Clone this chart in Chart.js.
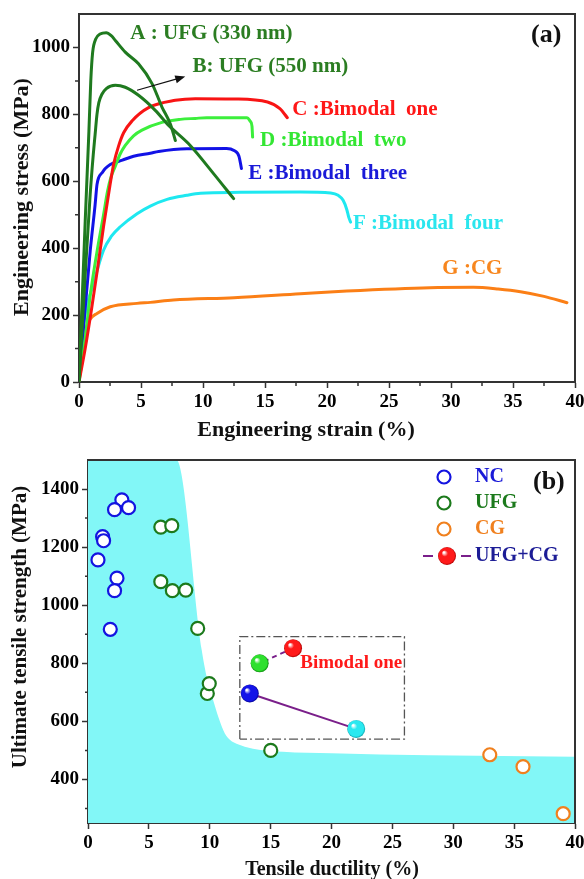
<!DOCTYPE html>
<html><head><meta charset="utf-8">
<script src="https://cdn.jsdelivr.net/npm/chart.js@4.4.1/dist/chart.umd.min.js"></script>
<style>
html,body{margin:0;padding:0;background:#fff;}
#wrap{position:relative;width:584px;height:879px;overflow:hidden;background:#fff;}
#ca{position:absolute;left:0;top:0;}
#cb{position:absolute;left:0;top:440px;}
</style></head><body>
<div id="wrap"><canvas id="ca" width="584" height="450"></canvas><canvas id="cb" width="584" height="439"></canvas></div>
<script>
// ===== Panel (a): engineering stress-strain curves =====
const strainA = [0,0.5,0.8,0.95,1.1,1.35,1.7,2.2,2.6,2.93,3.73,4.8,5.89,6.69,7.36,7.77];
const stressA = [0,480,750,900,985,1025,1040,1044,1035,1021,986,951,892,822,772,722];
const strainB = [0,0.5,0.9,1.15,1.3,1.45,1.6,1.85,2.2,2.93,3.73,4.8,6.15,7.23,8.84,10.85,12.47];
const stressB = [0,320,560,680,740,800,835,860,877,887,881,857,812,767,712,623,548];
const strainC = [0,0.5,1.0,1.5,2.0,2.52,2.8,3.19,3.6,4.27,5.61,7.77,9.38,12.5,15.2,16.2,16.8];
const stressC = [0,100,215,340,470,593,652,705,745,780,820,842,847,846,837,817,790];
const strainD = [0,0.5,0.91,1.5,1.98,2.3,2.6,2.93,3.3,3.73,4.4,5.08,6.69,8.17,9.38,10.3,13.55,13.8,13.95,14.0];
const stressD = [0,130,260,400,500,570,615,645,680,707,736,753,776,785,788,790,790,780,765,732];
const strainE = [0,0.37,0.91,1.3,1.45,1.6,1.85,2.12,2.52,3.5,4.4,5.75,6.42,8.7,11.9,12.5,12.9,13.1];
const stressE = [0,165,394,530,590,612,625,638,650,663,675,684,689,697,698,692,675,638];
const strainF = [0,0.37,1.18,1.98,2.6,3.33,4.68,5.75,7.1,8.7,9.8,13,17.85,20.3,20.9,21.3,21.6,21.75,21.9];
const stressF = [0,170,295,394,435,464,503,526,546,558,564,567,568,565,558,543,515,493,478];
const strainG = [0,0.25,0.51,0.9,1.45,2.52,4.68,5.75,7.6,12.5,17.85,21.6,28.3,31.8,33.8,35.6,37.5,39.35];
const stressG = [0,100,155,188,205,225,235,238,245,252,264,272,282,283,278,270,256,237];
const curveLabels = ['A : UFG (330 nm)','B: UFG (550 nm)','C :Bimodal  one','D :Bimodal  two','E :Bimodal  three','F :Bimodal  four','G :CG'];
const arrowStrain = [4.68, 8.57];
const arrowStress = [872, 913];

// ===== Panel (b): strength vs ductility =====
const ncDuctility = [2.78,2.18,3.33,1.20,1.28,0.82,2.38,2.18,1.83];
const ncStrength  = [1363,1329,1336,1236,1222,1156,1093,1050,917];
const ufgDuctility = [5.98,6.88,5.98,6.93,8.03,9.01,9.80,9.96,15.01];
const ufgStrength  = [1269,1274,1081,1050,1052,920,696,730,500];
const cgDuctility = [33.0,35.73,39.03];
const cgStrength  = [485,444,282];
const bimodalDuctility = [16.84,14.1,13.29,22.03];
const bimodalStrength  = [852,800,696,574];
const regionDuctility = [0,7.27,9.34,9.87,10.3,10.7,11.24,11.7,12.2,13.55,16,20,28,40];
const regionStrength  = [1500,1500,846,731,670,616,558,535,523,506,495,490,483,478];
const boxDuctility = [12.47, 25.99];
const boxStrength  = [539, 892];
const legendLabels = ['NC','UFG','CG','UFG+CG'];
const bimodalNote = 'Bimodal one';

// ===== styling =====
const FONT = "'Liberation Serif','Times New Roman',serif";
const pts = (xs, ys) => xs.map((x, i) => ({x, y: ys[i]}));
const curveColors = ['#1f7a1f','#1f7a1f','#f81414','#3cef3c','#1212e6','#1ee8f0','#fb7f16'];
const labelColors = ['#2b7d22','#2b7d22','#ff1717','#33e633','#1a1ad8','#2ae6ee','#f7861e'];
const labelPos = [[4.14,1042],[9.15,943],[17.2,815],[14.6,722],[13.65,624],[22.1,475],[29.3,340]];
const curves = [[strainA,stressA],[strainB,stressB],[strainC,stressC],[strainD,stressD],[strainE,stressE],[strainF,stressF],[strainG,stressG]];

function axisCommon(min, max, step, font) {
  return {
    type: 'linear', min, max,
    ticks: {stepSize: step, includeBounds: false, color: '#000', padding: 3, maxRotation: 0,
            callback: v => String(v),
            font: {family: FONT, size: font, weight: 'bold'}},
    grid: {drawOnChartArea: false, tickLength: 6, tickColor: '#333', tickWidth: 1.5},
    border: {color: '#333', width: 2}
  };
}

function frameAndMinor(chart, xMinor, yMinor, len) {
  const {ctx, chartArea: a, scales: {x, y}} = chart;
  ctx.save();
  ctx.strokeStyle = '#333'; ctx.lineWidth = 2;
  ctx.beginPath(); ctx.moveTo(a.left - 1, a.top); ctx.lineTo(a.right, a.top); ctx.lineTo(a.right, a.bottom + 1); ctx.stroke();
  ctx.lineWidth = 1.5; ctx.beginPath();
  xMinor.forEach(v => { const p = x.getPixelForValue(v); ctx.moveTo(p, a.bottom); ctx.lineTo(p, a.bottom + len); });
  yMinor.forEach(v => { const p = y.getPixelForValue(v); ctx.moveTo(a.left, p); ctx.lineTo(a.left - len, p); });
  ctx.stroke();
  ctx.restore();
}

function drawText(ctx, text, x, y, size, color, align, rot) {
  ctx.save();
  ctx.font = `bold ${size}px ${FONT}`;
  ctx.fillStyle = color; ctx.textAlign = align || 'left'; ctx.textBaseline = 'middle';
  ctx.translate(x, y); if (rot) ctx.rotate(rot);
  ctx.fillText(text, 0, 0);
  ctx.restore();
}

const decorA = {
  id: 'decorA',
  afterDraw(chart) {
    const {ctx, scales: {x, y}} = chart;
    const xm = []; for (let v = 2.5; v < 40; v += 5) xm.push(v);
    const ym = []; for (let v = 100; v < 1000; v += 200) ym.push(v);
    frameAndMinor(chart, xm, ym, 4);
    curveLabels.forEach((t, i) => drawText(ctx, t, x.getPixelForValue(labelPos[i][0]), y.getPixelForValue(labelPos[i][1]), 21, labelColors[i]));
    // arrow pointing to curve B label
    const x0 = x.getPixelForValue(arrowStrain[0]), y0 = y.getPixelForValue(arrowStress[0]);
    const x1 = x.getPixelForValue(arrowStrain[1]), y1 = y.getPixelForValue(arrowStress[1]);
    const ang = Math.atan2(y1 - y0, x1 - x0);
    ctx.save(); ctx.strokeStyle = '#111'; ctx.fillStyle = '#111'; ctx.lineWidth = 1.2;
    ctx.beginPath(); ctx.moveTo(x0, y0); ctx.lineTo(x1 - 6 * Math.cos(ang), y1 - 6 * Math.sin(ang)); ctx.stroke();
    ctx.beginPath(); ctx.moveTo(x1, y1);
    ctx.lineTo(x1 - 10 * Math.cos(ang) + 4 * Math.sin(ang), y1 - 10 * Math.sin(ang) - 4 * Math.cos(ang));
    ctx.lineTo(x1 - 10 * Math.cos(ang) - 4 * Math.sin(ang), y1 - 10 * Math.sin(ang) + 4 * Math.cos(ang));
    ctx.closePath(); ctx.fill(); ctx.restore();
    drawText(ctx, '(a)', 531, 35, 26, '#111');
    drawText(ctx, 'Engineering strain (%)', 306, 430, 22, '#111', 'center');
    drawText(ctx, 'Engineering stress (MPa)', 22, 197, 22, '#111', 'center', -Math.PI / 2);
  }
};

new Chart(document.getElementById('ca'), {
  type: 'line',
  data: {datasets: curves.map((c, i) => ({
    label: curveLabels[i], data: pts(c[0], c[1]), borderColor: curveColors[i], borderWidth: 3,
    pointRadius: 0, fill: false, cubicInterpolationMode: 'monotone', borderCapStyle: 'round', borderJoinStyle: 'round'
  }))},
  options: {
    responsive: false, animation: false, events: [],
    layout: {padding: {left: 0, top: 14, right: 9, bottom: 0}},
    plugins: {legend: {display: false}, tooltip: {enabled: false}},
    scales: {
      x: Object.assign(axisCommon(0, 40, 5, 19), {afterFit: s => { s.height = 68; s.paddingLeft = 0; s.paddingRight = 0; }}),
      y: Object.assign(axisCommon(0, 1100, 200, 19), {afterFit: s => { s.width = 79; s.paddingTop = 0; s.paddingBottom = 0; }})
    }
  },
  plugins: [decorA]
});

// ===== Panel (b) =====
const sphereColors = ['#ff1a1a','#2ee02e','#1414e8','#2ae8f0'];
const sphereDark   = ['#a80000','#0a8a0a','#00008c','#0aa2ac'];
function sphereGrad(g, x, y, r, c, d) {
  const gr = g.createRadialGradient(x - r * 0.35, y - r * 0.4, r * 0.08, x, y, r);
  gr.addColorStop(0, '#ffffff'); gr.addColorStop(0.3, c); gr.addColorStop(0.85, c); gr.addColorStop(1, d);
  return gr;
}
function sphereFill(ctx) {
  const c = ctx.chart, i = ctx.dataIndex;
  if (ctx.type !== 'data' || !c.chartArea) return sphereColors[i] || '#f00';
  const px = c.scales.x.getPixelForValue(ctx.raw.x), py = c.scales.y.getPixelForValue(ctx.raw.y);
  return sphereGrad(c.ctx, px, py, 9, sphereColors[i], sphereDark[i]);
}
const boxPts = [[0,0],[0,1],[1,1],[1,0],[0,0]].map(([i, j]) => ({x: boxDuctility[i], y: boxStrength[j]}));

const decorB = {
  id: 'decorB',
  afterDraw(chart) {
    const {ctx, scales: {x, y}} = chart;
    const ym = []; for (let v = 300; v < 1500; v += 200) ym.push(v);
    frameAndMinor(chart, [], ym, 3);
    drawText(ctx, bimodalNote, x.getPixelForValue(17.44), y.getPixelForValue(bimodalStrength[1]), 19, '#ff1a1a');
    // legend
    const lc = ['#1414e0','#1c7a1c','#f0801e'];
    const tc = ['#1a1ad8','#1c7a1c','#f0801e','#1c1c96'];
    const ly = [37, 63, 89, 116];
    ctx.save();
    for (let k = 0; k < 3; k++) {
      ctx.beginPath(); ctx.arc(444, ly[k], 6.5, 0, Math.PI * 2);
      ctx.fillStyle = '#fff'; ctx.fill(); ctx.lineWidth = 2.2; ctx.strokeStyle = lc[k]; ctx.stroke();
    }
    ctx.strokeStyle = '#7a1f8a'; ctx.lineWidth = 2;
    ctx.beginPath(); ctx.moveTo(423, ly[3]); ctx.lineTo(433, ly[3]); ctx.moveTo(461, ly[3]); ctx.lineTo(471, ly[3]); ctx.stroke();
    ctx.beginPath(); ctx.arc(447, ly[3], 9, 0, Math.PI * 2);
    ctx.fillStyle = sphereGrad(ctx, 447, ly[3], 9, sphereColors[0], sphereDark[0]); ctx.fill();
    ctx.restore();
    legendLabels.forEach((t, k) => drawText(ctx, t, 475, ly[k], 20, tc[k]));
    drawText(ctx, '(b)', 533, 42, 26, '#111');
    drawText(ctx, 'Tensile ductility (%)', 332, 430, 20, '#111', 'center');
    drawText(ctx, 'Ultimate tensile strength (MPa)', 21, 187, 21, '#111', 'center', -Math.PI / 2);
  }
};

new Chart(document.getElementById('cb'), {
  type: 'line',
  data: {datasets: [
    {label: 'UFG+CG', data: pts(bimodalDuctility, bimodalStrength), showLine: false, pointRadius: 9,
     pointBorderWidth: 0, pointBackgroundColor: sphereFill, pointBorderColor: 'rgba(0,0,0,0)'},
    {label: 'link1', data: pts(bimodalDuctility.slice(0, 2), bimodalStrength.slice(0, 2)), borderColor: '#7a1f8a', borderWidth: 2, borderDash: [5, 4], pointRadius: 0},
    {label: 'link2', data: pts(bimodalDuctility.slice(2, 4), bimodalStrength.slice(2, 4)), borderColor: '#7a1f8a', borderWidth: 2, pointRadius: 0},
    {label: 'NC', data: pts(ncDuctility, ncStrength), showLine: false, pointRadius: 6.5, pointBorderWidth: 2.2, pointBorderColor: '#1414e0', pointBackgroundColor: '#fff'},
    {label: 'UFG', data: pts(ufgDuctility, ufgStrength), showLine: false, pointRadius: 6.5, pointBorderWidth: 2.2, pointBorderColor: '#1c7a1c', pointBackgroundColor: '#fff'},
    {label: 'CG', data: pts(cgDuctility, cgStrength), showLine: false, pointRadius: 6.5, pointBorderWidth: 2.2, pointBorderColor: '#f0801e', pointBackgroundColor: '#fff'},
    {label: 'box', data: boxPts, borderColor: '#555', borderWidth: 1.3, borderDash: [9, 3, 2, 3], pointRadius: 0},
    {label: 'region', data: pts(regionDuctility, regionStrength), borderWidth: 0, borderColor: 'rgba(0,0,0,0)', pointRadius: 0,
     fill: 'start', backgroundColor: '#82f7f7', cubicInterpolationMode: 'monotone'}
  ]},
  options: {
    responsive: false, animation: false, events: [],
    layout: {padding: {left: 0, top: 20, right: 8, bottom: 0}},
    plugins: {legend: {display: false}, tooltip: {enabled: false}},
    scales: {
      x: Object.assign(axisCommon(0, 40, 5, 19), {afterFit: s => { s.height = 56; s.paddingLeft = 0; s.paddingRight = 0; }}),
      y: Object.assign(axisCommon(250, 1500, 200, 19), {afterFit: s => { s.width = 88; s.paddingTop = 0; s.paddingBottom = 0; }})
    }
  },
  plugins: [decorB]
});
</script>
</body></html>
